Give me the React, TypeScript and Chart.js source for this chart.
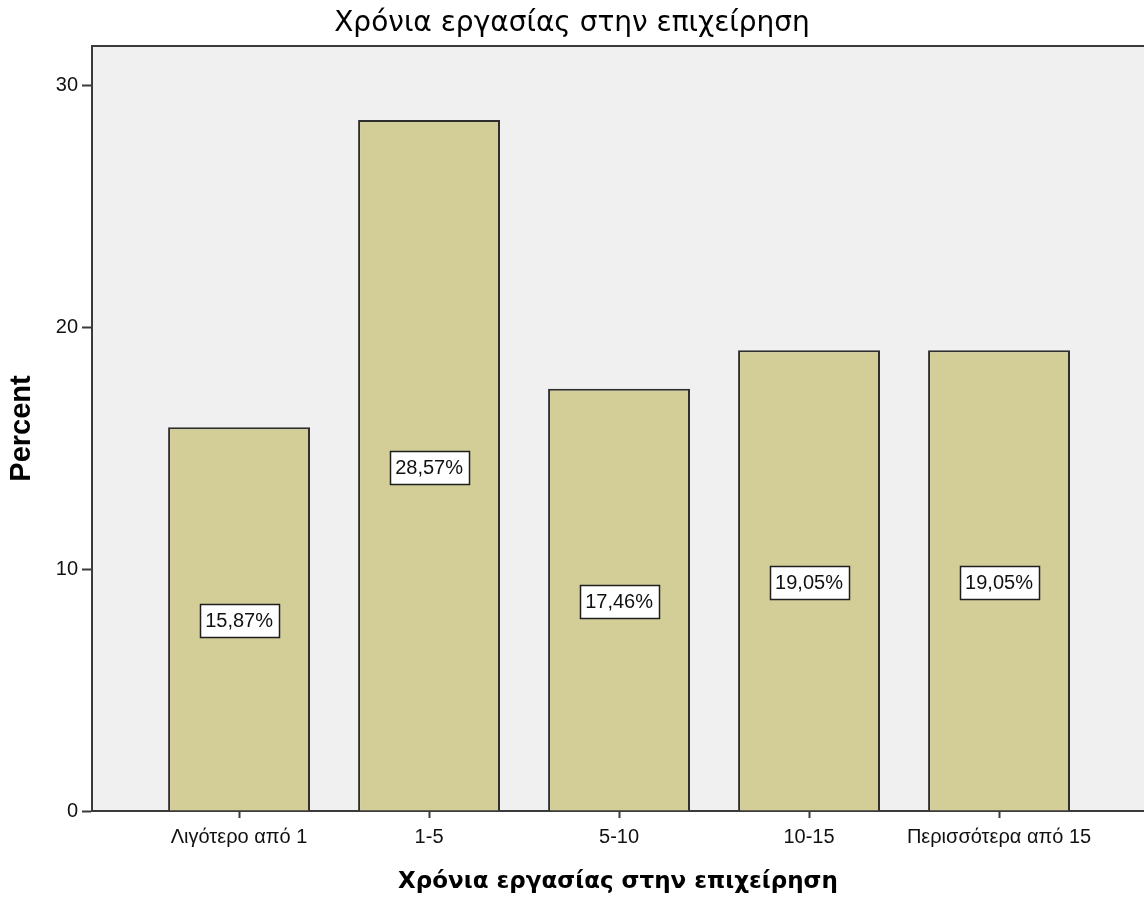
import React, { useEffect, useRef } from "react";
import { Chart, registerables } from "chart.js";

Chart.register(...registerables);

// Years of employment in the company, share of respondents (%)
const categories = ["Λιγότερο από 1", "1-5", "5-10", "10-15", "Περισσότερα από 15"];
const percents = [15.87, 28.57, 17.46, 19.05, 19.05];
const yTicks = [0, 10, 20, 30];
const chartTitle = "Χρόνια εργασίας στην επιχείρηση";
const xTitle = "Χρόνια εργασίας στην επιχείρηση";
const yTitle = "Percent";

const AXIS_COLOR = "#3a3a3a";
const PLOT_BG = "#f0f0f0";
const BAR_FILL = "#d3ce98";
const BAR_EDGE = "#2e2e2e";

const formatPercent = (v: number) => v.toFixed(2).replace(".", ",") + "%";

// Grey plot background plus the frame line along the top edge
const plotBackground = {
  id: "plotBackground",
  beforeDraw(chart: any) {
    const { ctx, chartArea } = chart;
    ctx.save();
    ctx.fillStyle = PLOT_BG;
    ctx.fillRect(chartArea.left, chartArea.top, chartArea.right - chartArea.left, chartArea.bottom - chartArea.top);
    ctx.strokeStyle = AXIS_COLOR;
    ctx.lineWidth = 2;
    ctx.beginPath();
    ctx.moveTo(chartArea.left, chartArea.top);
    ctx.lineTo(chartArea.right, chartArea.top);
    ctx.stroke();
    ctx.restore();
  },
};

// White boxed value labels in the middle of each bar
const valueBoxes = {
  id: "valueBoxes",
  afterDatasetsDraw(chart: any) {
    const { ctx } = chart;
    const meta = chart.getDatasetMeta(0);
    ctx.save();
    ctx.font = '20px "Liberation Sans", Arial, sans-serif';
    ctx.textAlign = "center";
    ctx.textBaseline = "middle";
    meta.data.forEach((bar: any, i: number) => {
      const { x, y, base } = bar.getProps(["x", "y", "base"], true);
      const text = formatPercent(percents[i]);
      const cy = (y + base) / 2 + 2;
      const w = Math.round(ctx.measureText(text).width + 11);
      const h = 33;
      const left = Math.round(x - w / 2) + 0.5;
      const top = Math.round(cy - h / 2) + 0.5;
      ctx.fillStyle = "#ffffff";
      ctx.fillRect(left, top, w, h);
      ctx.strokeStyle = "#1e1e1e";
      ctx.lineWidth = 1.5;
      ctx.strokeRect(left, top, w, h);
      ctx.fillStyle = "#111111";
      ctx.fillText(text, x, cy + 1);
    });
    ctx.restore();
  },
};

export default function App() {
  const canvasRef = useRef<HTMLCanvasElement | null>(null);

  useEffect(() => {
    document.body.style.margin = "0";
    const canvas = canvasRef.current;
    if (!canvas) return;

    const chart = new Chart(canvas, {
      type: "bar",
      data: {
        datasets: [
          {
            label: yTitle,
            data: percents.map((v, i) => ({ x: i, y: v })),
            backgroundColor: BAR_FILL,
            borderColor: BAR_EDGE,
            borderWidth: 2,
            borderSkipped: "bottom",
            barPercentage: 0.747,
            categoryPercentage: 1,
          },
        ],
      },
      options: {
        responsive: false,
        animation: false,
        layout: { padding: 0 },
        plugins: {
          legend: { display: false },
          tooltip: { enabled: false },
          title: {
            display: true,
            text: chartTitle,
            color: "#000",
            font: { family: '"DejaVu Sans", sans-serif', size: 28, weight: "500" },
            padding: { top: 7, bottom: 5.4 },
          },
        },
        scales: {
          x: {
            type: "linear",
            offset: false,
            min: -0.774,
            max: 4.763,
            afterBuildTicks: (axis: any) => {
              axis.ticks = categories.map((_, i) => ({ value: i }));
            },
            afterFit: (scale: any) => {
              scale.height = 87;
            },
            ticks: {
              autoSkip: false,
              maxRotation: 0,
              padding: 7,
              color: "#111",
              font: { family: '"Liberation Sans", Arial, sans-serif', size: 20 },
              callback: (v: any) => categories[Number(v)] ?? "",
            },
            grid: {
              display: true,
              offset: false,
              drawOnChartArea: false,
              drawTicks: true,
              tickLength: 7,
              tickColor: AXIS_COLOR,
              tickWidth: 2,
            },
            border: { display: true, color: AXIS_COLOR, width: 2 },
            title: {
              display: true,
              text: xTitle,
              color: "#000",
              font: { family: '"DejaVu Sans", sans-serif', size: 23, weight: "bold" },
              padding: { top: 0, bottom: 2 },
            },
          },
          y: {
            min: 0,
            max: 31.63,
            afterBuildTicks: (axis: any) => {
              axis.ticks = yTicks.map((v) => ({ value: v }));
            },
            afterFit: (scale: any) => {
              scale.width = 92;
            },
            ticks: {
              padding: 4,
              color: "#111",
              font: { family: '"Liberation Sans", Arial, sans-serif', size: 20 },
            },
            grid: {
              display: true,
              drawOnChartArea: false,
              drawTicks: true,
              tickLength: 10,
              tickColor: AXIS_COLOR,
              tickWidth: 2,
            },
            border: { display: true, color: AXIS_COLOR, width: 2 },
            title: {
              display: true,
              text: yTitle,
              color: "#000",
              font: { family: '"Liberation Sans", Arial, sans-serif', size: 29, weight: "bold" },
              padding: { top: 5, bottom: 0 },
            },
          },
        },
      },
      plugins: [plotBackground, valueBoxes],
    });

    return () => chart.destroy();
  }, []);

  return (
    <div style={{ width: 1144, height: 898 }}>
      <canvas ref={canvasRef} width={1144} height={898} />
    </div>
  );
}
